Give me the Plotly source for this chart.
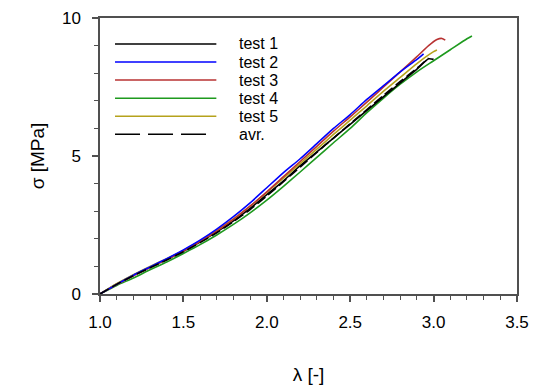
import plotly.graph_objects as go

# ---- data ----
lam_base = [1.0, 1.1, 1.2, 1.3, 1.4, 1.5, 1.6, 1.7, 1.8, 1.9, 2.0,
            2.1, 2.2, 2.3, 2.4, 2.5, 2.6, 2.7, 2.8, 2.9]

test1_lam = lam_base + [2.97, 3.0]
test1_sig = [0, 0.36, 0.68, 0.97, 1.25, 1.55, 1.88, 2.25, 2.65, 3.1, 3.6,
             4.1, 4.65, 5.15, 5.65, 6.15, 6.65, 7.15, 7.65, 8.15, 8.52, 8.5]

test2_lam = lam_base + [2.94]
test2_sig = [0, 0.35, 0.68, 0.98, 1.28, 1.6, 1.95, 2.35, 2.8, 3.3, 3.85,
             4.4, 4.9, 5.45, 6.0, 6.5, 7.05, 7.55, 8.05, 8.5, 8.7]

test3_lam = lam_base + [2.97, 3.02, 3.05, 3.07]
test3_sig = [0, 0.34, 0.66, 0.96, 1.25, 1.56, 1.9, 2.28, 2.7, 3.18, 3.7,
             4.25, 4.8, 5.35, 5.9, 6.42, 6.95, 7.5, 8.05, 8.6, 9.0, 9.22, 9.26, 9.2]

test4_lam = lam_base + [3.0, 3.1, 3.2, 3.23]
test4_sig = [0, 0.31, 0.58, 0.88, 1.16, 1.47, 1.79, 2.14, 2.52, 2.94, 3.4,
             3.9, 4.42, 4.95, 5.48, 6.0, 6.57, 7.1, 7.6, 8.05, 8.45, 8.85, 9.25, 9.35]

test5_lam = lam_base + [3.0, 3.02]
test5_sig = [0, 0.37, 0.7, 1.0, 1.28, 1.58, 1.92, 2.3, 2.72, 3.18, 3.68,
             4.2, 4.72, 5.25, 5.78, 6.3, 6.82, 7.35, 7.85, 8.35, 8.78, 8.84]

avr_lam = lam_base + [2.97]
avr_sig = [0, 0.35, 0.66, 0.95, 1.23, 1.53, 1.86, 2.22, 2.62, 3.06, 3.55,
           4.07, 4.6, 5.13, 5.65, 6.17, 6.68, 7.2, 7.7, 8.18, 8.55]

series_names = ["test 1", "test 2", "test 3", "test 4", "test 5", "avr."]
x_ticks = [1.0, 1.5, 2.0, 2.5, 3.0, 3.5]
x_tick_labels = ["1.0", "1.5", "2.0", "2.5", "3.0", "3.5"]
y_ticks = [0, 5, 10]
y_tick_labels = ["0", "5", "10"]

# ---- styles ----
colors = ["#000000", "#0000ff", "#b83232", "#1e9a1e", "#b5a21c", "#000000"]
dashes = ["solid", "solid", "solid", "solid", "solid", "10px,4px"]
legend_dashes = ["solid", "solid", "solid", "solid", "solid", "25px,8px"]
legend_x1 = [0.279, 0.279, 0.279, 0.279, 0.279, 0.257]

xs = [test1_lam, test2_lam, test3_lam, test4_lam, test5_lam, avr_lam]
ys = [test1_sig, test2_sig, test3_sig, test4_sig, test5_sig, avr_sig]

FONT = "Liberation Sans, Arial, sans-serif"
AX = "#505050"

fig = go.Figure()
# draw order: tests first, average on top
for i in [3, 0, 4, 2, 1, 5]:
    fig.add_trace(go.Scatter(
        x=xs[i], y=ys[i], mode="lines", name=series_names[i],
        line=dict(color=colors[i], width=1.6, dash=dashes[i], shape="spline",
                  smoothing=0.6),
        showlegend=False, hoverinfo="skip"))

# manual legend (long sample lines as in the reference)
leg_y0 = 0.906
leg_dy = 0.0655
for i, name in enumerate(series_names):
    yy = leg_y0 - i * leg_dy
    fig.add_shape(type="line", xref="paper", yref="paper",
                  x0=0.036, x1=legend_x1[i], y0=yy, y1=yy,
                  line=dict(color=colors[i], width=1.5, dash=legend_dashes[i]))
    fig.add_annotation(xref="paper", yref="paper", x=0.329, y=yy,
                       text=name, showarrow=False, xanchor="left",
                       yanchor="middle",
                       font=dict(family=FONT, size=16, color="#000000"))

fig.update_xaxes(
    range=[1.0, 3.5], tickvals=x_ticks, ticktext=x_tick_labels,
    ticks="outside", ticklen=6, tickwidth=1.5, tickcolor=AX,
    minor=dict(dtick=0.1, ticks="outside", ticklen=4, tickwidth=1.2,
               tickcolor=AX, showgrid=False),
    showline=True, linecolor=AX, linewidth=1.5, mirror=True,
    showgrid=False, zeroline=False, ticklabelstandoff=6, automargin=False,
    tickfont=dict(family=FONT, size=17, color="#000000"),
    title=dict(text="λ [-]", font=dict(family=FONT, size=19, color="#000000"),
               standoff=37))
fig.update_yaxes(
    range=[0, 10], tickvals=y_ticks, ticktext=y_tick_labels,
    ticks="outside", ticklen=6, tickwidth=1.5, tickcolor=AX,
    minor=dict(dtick=1, ticks="outside", ticklen=4, tickwidth=1.2,
               tickcolor=AX, showgrid=False),
    showline=True, linecolor=AX, linewidth=1.5, mirror=True,
    showgrid=False, zeroline=False, ticklabelstandoff=8, automargin=False,
    tickfont=dict(family=FONT, size=17, color="#000000"),
    title=dict(text="σ [MPa]", font=dict(family=FONT, size=19, color="#000000"),
               standoff=12))

# page body has an 8px margin, so the figure is sized to fit the window
fig.update_layout(
    width=532, height=383,
    margin=dict(l=92, r=23, t=10, b=97),
    paper_bgcolor="white", plot_bgcolor="white",
    showlegend=False,
    font=dict(family=FONT, color="#000000"))

fig.write_html("out.html")
